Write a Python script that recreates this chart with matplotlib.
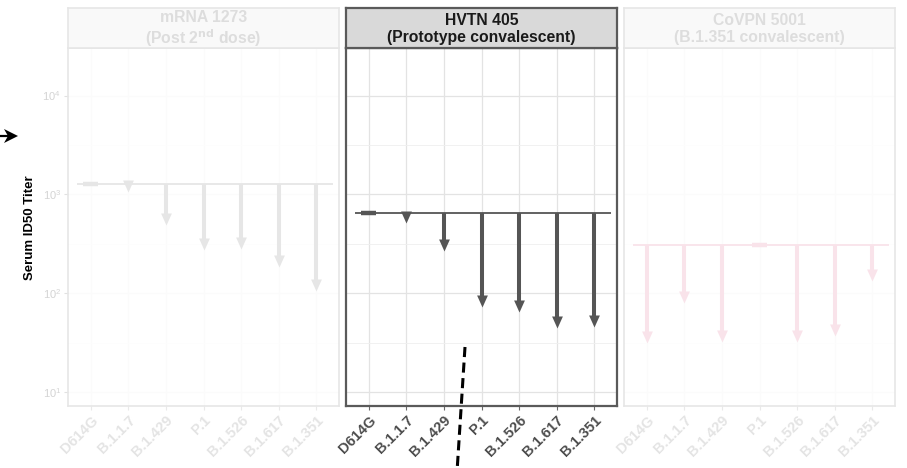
import matplotlib.pyplot as plt
import numpy as np
from matplotlib.colors import to_rgb
from matplotlib.lines import Line2D
from matplotlib.patches import Polygon
from matplotlib.ticker import FixedLocator, NullFormatter

plt.rcParams["font.family"] = ["Liberation Sans", "DejaVu Sans"]

variants = ["D614G", "B.1.1.7", "B.1.429", "P.1", "B.1.526", "B.1.617", "B.1.351"]

cohorts = [
    "mRNA 1273\n(Post 2$^{\\mathbf{nd}}$ dose)",
    "HVTN 405\n(Prototype convalescent)",
    "CoVPN 5001\n(B.1.351 convalescent)",
]

# reference titer per cohort (top of the arrows) and titer against each variant
mrna_base = 1260
mrna_titers = [1260, 1050, 495, 276, 280, 183, 104]
hvtn_base = 650
hvtn_titers = [650, 510, 264, 73, 64, 44, 45]
covpn_base = 310
covpn_titers = [31, 79, 32, 310, 32, 37, 134]

bases = [mrna_base, hvtn_base, covpn_base]
titers = [mrna_titers, hvtn_titers, covpn_titers]
arrow_colors = ["#555555", "#555555", "#d94472"]
highlight = 1  # only the middle cohort is drawn at full strength


def fade(color, amount):
    r, g, b = to_rgb(color)
    return (1 - (1 - r) * (1 - amount), 1 - (1 - g) * (1 - amount), 1 - (1 - b) * (1 - amount))


# arrow head with its tip at the marker origin
head = [(0, 0), (-0.45, 1), (0.45, 1), (0, 0)]
head_px = 12

fig = plt.figure(figsize=(9.07, 4.68), dpi=100)
W, H = 907, 468

panel_left = [68, 346, 624]
panel_w = 271
panel_top, panel_bottom = 48, 406
strip_top = 8

x = np.arange(len(variants))

for k in range(3):
    f = 0.0 if k == highlight else 0.85
    ax = fig.add_axes([panel_left[k] / W, 1 - panel_bottom / H,
                       panel_w / W, (panel_bottom - panel_top) / H])
    ax.set_yscale("log")
    ax.set_ylim(7.2, 30300)
    ax.set_xlim(-0.6, len(variants) - 0.4)

    # grid
    ax.yaxis.set_minor_locator(FixedLocator([10 ** 1.5, 10 ** 2.5, 10 ** 3.5]))
    ax.yaxis.set_minor_formatter(NullFormatter())
    ax.grid(True, which="major", color=fade("#e3e3e3", f), lw=0.9)
    ax.grid(True, which="minor", axis="y", color=fade("#efefef", f), lw=0.6)
    ax.set_axisbelow(True)

    for sp in ax.spines.values():
        sp.set_color(fade("#5a5a5a", f))
        sp.set_linewidth(1.6 if k == highlight else 1.2)

    c = fade(arrow_colors[k], f)
    base = bases[k]
    ax.hlines(base, -0.35, len(variants) - 0.55, color=c, lw=1.3, zorder=3)
    for i, t in enumerate(titers[k]):
        if t == base:
            ax.hlines(base, i - 0.2, i + 0.2, color=c, lw=3.2, zorder=4)
            continue
        # stop the shaft inside the head so the tip stays sharp
        tip_y = ax.transData.transform((i, t))[1]
        base_y = ax.transData.transform((i, base))[1]
        if base_y - tip_y > head_px:
            end = ax.transData.inverted().transform((0, tip_y + head_px * 0.6))[1]
            ax.vlines(i, end, base, color=c, lw=2.9, zorder=4)
        ax.plot(i, t, marker=head, markersize=2 * head_px * 0.72,
                color=c, markeredgewidth=0, zorder=5)

    ax.set_xticks(x)
    ax.set_xticklabels(variants, rotation=45, ha="right", va="top",
                       rotation_mode="anchor", fontsize=10.5, fontweight="bold",
                       color=fade("#4d4d4d", f))
    ax.tick_params(axis="x", length=3, width=0.8, color=fade("#6a6a6a", f), pad=2)
    ax.tick_params(axis="y", which="minor", length=0)
    if k == 0:
        ax.tick_params(axis="y", which="major", length=3, width=0.8,
                       color=fade("#6a6a6a", 0.8), labelcolor=fade("#4d4d4d", 0.76),
                       labelsize=8, pad=2)
    else:
        ax.tick_params(axis="y", which="major", length=0, labelleft=False)

    # facet strip
    sx = fig.add_axes([panel_left[k] / W, 1 - panel_top / H,
                       panel_w / W, (panel_top - strip_top) / H])
    sx.set_facecolor(fade("#d9d9d9", f))
    sx.set_xticks([])
    sx.set_yticks([])
    for sp in sx.spines.values():
        sp.set_color(fade("#5a5a5a", f))
        sp.set_linewidth(1.6 if k == highlight else 1.2)
    sx.text(0.5, 0.47, cohorts[k], transform=sx.transAxes, ha="center", va="center",
            fontsize=11.3, fontweight="bold", color=fade("#1a1a1a", f), linespacing=1.15)

fig.text(30 / W, 1 - 228 / H, "Serum ID50 Titer", rotation=90, ha="center",
         va="center", fontsize=9.5, fontweight="bold", color="black")

# pointer on the left edge and dashed divider under the middle panel
fig.add_artist(Line2D([0, 7 / W], [1 - 136 / H, 1 - 136 / H], transform=fig.transFigure,
                      color="black", lw=1.6))
fig.add_artist(Polygon([(18 / W, 1 - 136 / H), (4 / W, 1 - 129 / H),
                        (8 / W, 1 - 136 / H), (4 / W, 1 - 143 / H)],
                       closed=True, transform=fig.transFigure, color="black", lw=0))
fig.add_artist(Line2D([465 / W, 457 / W], [1 - 347 / H, 1 - 472 / H],
                      transform=fig.transFigure, color="black", lw=2.2,
                      linestyle=(0, (3.3, 1.8))))

fig.savefig("out.png", dpi=100)
